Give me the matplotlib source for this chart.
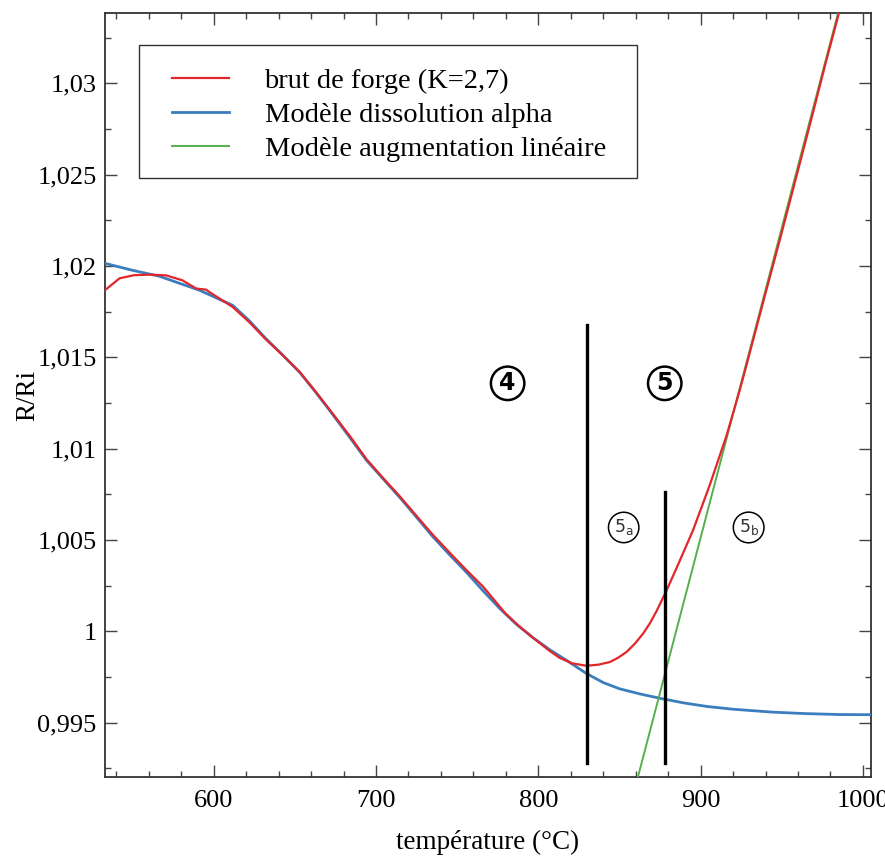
import matplotlib
matplotlib.use("Agg")
import matplotlib.pyplot as plt
from matplotlib.patches import Rectangle
from matplotlib.ticker import MultipleLocator, FuncFormatter

# courbe mesuree (brut de forge)
t_brut = [532.9, 542.0, 551.0, 560.4, 570.7, 580.7, 589.2, 595.3, 597.3, 611.7,
          622.0, 632.0, 642.5, 653.0, 663.0, 673.3, 684.0, 694.2, 704.5, 714.6,
          724.8, 734.9, 745.5, 755.8, 766.0, 779.7, 788.0, 796.5, 807.0, 813.2,
          821.0, 829.6, 837.0, 844.0, 849.0, 854.3, 859.5, 864.5, 868.8, 872.8,
          878.9, 885.1, 895.3, 905.6, 915.9, 924.1, 928.2, 939.5, 949.0, 959.0,
          969.1, 977.0, 985.7, 988.8]
r_brut = [1.01867, 1.01933, 1.01950, 1.01953, 1.01949, 1.01922, 1.01877, 1.01871, 1.01858, 1.01776,
          1.01692, 1.01600, 1.01512, 1.01420, 1.01310, 1.01192, 1.01068, 1.00942, 1.00838, 1.00740,
          1.00634, 1.00530, 1.00430, 1.00335, 1.00245, 1.00099, 1.00030, 0.99967, 0.99893, 0.99855,
          0.99825, 0.99812, 0.99818, 0.99832, 0.99855, 0.99887, 0.99933, 0.99987, 1.00045, 1.00110,
          1.00222, 1.00345, 1.00553, 1.00800, 1.01070, 1.01320, 1.01455, 1.01835, 1.02150, 1.02490,
          1.02835, 1.03110, 1.03400, 1.03500]

# modele dissolution alpha
t_alpha = [532.9, 549.9, 566.6, 591.4, 611.7, 622.0, 632.0, 642.5, 653.0, 663.0,
           673.3, 684.0, 694.2, 704.5, 714.6, 724.8, 734.9, 745.5, 755.8, 766.0,
           776.2, 786.0, 796.5, 807.0, 817.5, 829.6, 840.0, 850.0, 862.5, 876.0,
           890.0, 904.0, 920.0, 944.4, 965.0, 985.6, 1004.7]
r_alpha = [1.02015, 1.01977, 1.01944, 1.01867, 1.01785, 1.01700, 1.01604, 1.01513, 1.01418, 1.01308,
           1.01188, 1.01060, 1.00936, 1.00834, 1.00734, 1.00627, 1.00520, 1.00418, 1.00323, 1.00222,
           1.00126, 1.00043, 0.99967, 0.99900, 0.99841, 0.99770, 0.99720, 0.99686, 0.99658, 0.99632,
           0.99608, 0.99589, 0.99574, 0.99558, 0.99550, 0.99545, 0.99544]

# modele augmentation lineaire
t_lin = [861.0, 986.0]
r_lin = [0.9919, 1.0343]

# limites des domaines
t_lim = [830.0, 878.0]
r_lim_bas = [0.99277, 0.99277]
r_lim_haut = [1.01675, 1.00762]

labels = ["brut de forge (K=2,7)", "Modèle dissolution alpha", "Modèle augmentation linéaire"]

plt.rcParams['font.family'] = ['Liberation Serif', 'DejaVu Serif']

fig = plt.figure(figsize=(8.85, 8.58), dpi=100)
ax = fig.add_axes([0.1186, 0.0944, 0.8656, 0.8904])

ax.plot(t_brut, r_brut, color='#e3262b', lw=1.6, label=labels[0], zorder=4)
ax.plot(t_alpha, r_alpha, color='#3b7dbd', lw=2.0, label=labels[1], zorder=3)
ax.plot(t_lin, r_lin, color='#55b04c', lw=1.4, label=labels[2], zorder=3)

for t, lo, hi in zip(t_lim, r_lim_bas, r_lim_haut):
    ax.plot([t, t], [lo, hi], color='black', lw=2.4, zorder=5)

# numeros des domaines
for t, num in [(781.1, "4"), (877.9, "5")]:
    ax.text(t, 1.01358, num, fontsize=17, fontweight='bold', family='DejaVu Sans',
            ha='center', va='center',
            bbox=dict(boxstyle='circle,pad=0.2', fc='white', ec='black', lw=1.8))
for t, sous in [(852.6, "a"), (929.6, "b")]:
    ax.text(t, 1.00569, "5$_\\mathregular{%s}$" % sous, fontsize=12.5, color='#333333',
            family='DejaVu Sans', ha='center', va='center',
            bbox=dict(boxstyle='circle,pad=0.3', fc='white', ec='black', lw=1.1))

ax.set_xlim(533, 1005)
ax.set_ylim(0.99203, 1.03385)

ax.xaxis.set_major_locator(MultipleLocator(100))
ax.xaxis.set_minor_locator(MultipleLocator(20))
ax.yaxis.set_major_locator(MultipleLocator(0.005))
ax.yaxis.set_minor_locator(MultipleLocator(0.0025))


def virgule(v, pos):
    s = ('%.3f' % v).rstrip('0').rstrip('.')
    return s.replace('.', ',')


ax.yaxis.set_major_formatter(FuncFormatter(virgule))
ax.tick_params(which='both', direction='in', top=True, right=True, color='#444444', width=1.0,
               labelsize=19)
ax.tick_params(axis='x', pad=9)
ax.tick_params(axis='y', pad=6)
ax.tick_params(which='major', length=8.5)
ax.tick_params(which='minor', length=4.3)
for sp in ax.spines.values():
    sp.set_color('#333333')
    sp.set_linewidth(1.3)

ax.set_xlabel("température (°C)", fontsize=19.5, labelpad=13)
ax.set_ylabel("R/Ri", fontsize=19.5, labelpad=-2)

# cadre de la legende dessine a part
ax.add_patch(Rectangle((0.0444, 0.7840), 0.6501, 0.1741, transform=ax.transAxes,
                       fill=True, fc='white', ec='#333333', lw=1.0, zorder=6))
leg = ax.legend(loc='upper left', bbox_to_anchor=(0.0875, 0.928), fontsize=20.5, frameon=False,
                borderaxespad=0, borderpad=0, handlelength=2.0, handletextpad=1.25,
                labelspacing=0.29)
leg.set_zorder(7)

fig.savefig("out.png", dpi=100)
